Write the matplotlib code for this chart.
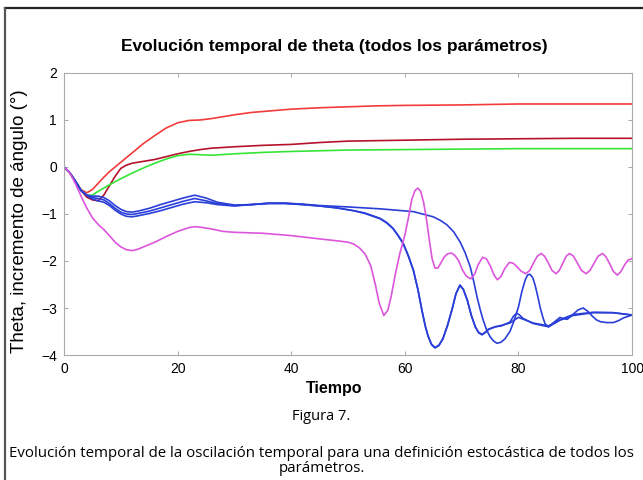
import matplotlib.pyplot as plt
from matplotlib.lines import Line2D

# data (tiempo, theta)
t_red = [0, 1, 2, 3, 4, 5, 6, 7, 8, 9, 10, 12, 14, 16, 18, 20, 22, 24, 26, 28, 30,
         33, 36, 40, 45, 50, 55, 60, 70, 80, 90, 100]
y_red = [0, -0.12, -0.3, -0.48, -0.55, -0.48, -0.35, -0.22, -0.1, 0.0, 0.1, 0.3, 0.5,
         0.67, 0.83, 0.94, 0.99, 1.0, 1.03, 1.07, 1.11, 1.16, 1.19, 1.23, 1.26, 1.28,
         1.3, 1.31, 1.32, 1.34, 1.34, 1.34]

t_darkred = [0, 1, 2, 3, 4, 5, 6, 7, 8, 9, 10, 11, 12, 14, 16, 18, 20, 22, 24, 26, 30,
             35, 40, 45, 50, 60, 70, 80, 90, 100]
y_darkred = [0, -0.12, -0.3, -0.5, -0.64, -0.7, -0.72, -0.6, -0.4, -0.2, -0.03, 0.04,
             0.08, 0.12, 0.16, 0.22, 0.28, 0.33, 0.37, 0.4, 0.43, 0.46, 0.48, 0.52, 0.55,
             0.57, 0.59, 0.6, 0.61, 0.61]

t_green = [0, 1, 2, 3, 4, 5, 6, 8, 10, 12, 14, 16, 18, 20, 22, 24, 26, 30, 35, 40, 50,
           60, 70, 80, 100]
y_green = [0, -0.12, -0.3, -0.5, -0.6, -0.6, -0.52, -0.38, -0.25, -0.13, -0.02, 0.08,
           0.17, 0.24, 0.27, 0.26, 0.25, 0.28, 0.31, 0.33, 0.36, 0.37, 0.38, 0.39, 0.39]

t_magenta = [0, 1, 2, 3, 4, 5, 6, 7, 8, 9, 10, 11, 12, 13, 14, 16, 18, 20, 22, 23, 24,
             26, 28, 30, 35, 40, 45, 48, 50, 51, 52, 53, 54, 54.8, 55.5, 56.3, 57, 57.6,
             58.3, 59.1, 60, 60.6, 61.2, 61.8, 62.3, 62.8, 63.3, 63.8, 64.3, 64.8, 65.3,
             65.8, 66.3, 66.9, 67.5, 68.2, 68.8, 69.5, 70.1, 70.8, 71.6, 72.3, 72.9,
             73.7, 74.4, 75.1, 75.7, 76.3, 76.9, 77.6, 78.4, 79.1, 79.8, 80.5, 81.3, 82,
             82.7, 83.3, 84, 84.6, 85.3, 85.9, 86.6, 87.2, 87.8, 88.4, 89, 89.7, 90.4,
             91.1, 91.9, 92.6, 93.3, 94, 94.8, 95.4, 96.1, 96.7, 97.4, 98, 98.7, 99.3, 100]
y_magenta = [0, -0.12, -0.35, -0.62, -0.87, -1.08, -1.22, -1.33, -1.46, -1.6, -1.7,
             -1.76, -1.78, -1.75, -1.7, -1.6, -1.48, -1.37, -1.29, -1.27, -1.28, -1.32,
             -1.37, -1.39, -1.41, -1.46, -1.53, -1.57, -1.6, -1.64, -1.72, -1.85, -2.1,
             -2.5, -2.9, -3.16, -3.05, -2.75, -2.3, -1.85, -1.45, -1.1, -0.7, -0.5,
             -0.45, -0.52, -0.75, -1.1, -1.55, -1.95, -2.15, -2.15, -2.05, -1.92, -1.85,
             -1.83, -1.88, -2.0, -2.18, -2.32, -2.38, -2.28, -2.08, -1.92, -1.96, -2.12,
             -2.3, -2.4, -2.33, -2.16, -2.03, -2.05, -2.13, -2.22, -2.27, -2.2, -2.03,
             -1.9, -1.84, -1.9, -2.05, -2.2, -2.27, -2.2, -2.05, -1.9, -1.84, -1.9, -2.05,
             -2.2, -2.27, -2.2, -2.05, -1.9, -1.84, -1.91, -2.07, -2.22, -2.3, -2.23,
             -2.08, -1.98, -1.95]

t_blue_a = [0, 1, 2, 3, 4, 5, 6, 7, 8, 9, 10, 11, 12, 13, 15, 17, 19, 21, 23, 25, 27,
            30, 33, 36, 39, 42, 45, 48, 51, 53, 55.6, 56.8, 57.9, 58.8, 59.7, 60.6, 61.5,
            62.3, 63, 63.6, 64.1, 64.7, 65.3, 66, 66.7, 67.5, 68.3, 69, 69.7, 70.3, 71,
            71.7, 72.4, 73, 73.6, 74.2, 74.7, 75.9, 77, 78.5, 79.1, 79.7, 80.2, 80.8,
            82.6, 85.3, 87.3, 89.6, 93.2, 96.7, 100]
y_blue_a = [0, -0.12, -0.3, -0.5, -0.6, -0.68, -0.72, -0.75, -0.82, -0.92, -1.0, -1.05,
            -1.06, -1.04, -0.99, -0.93, -0.86, -0.79, -0.74, -0.76, -0.8, -0.83, -0.8,
            -0.78, -0.78, -0.8, -0.83, -0.87, -0.93, -0.98, -1.09, -1.18, -1.3, -1.45,
            -1.62, -1.88, -2.19, -2.6, -3.04, -3.38, -3.6, -3.78, -3.85, -3.8, -3.66,
            -3.38, -3.04, -2.7, -2.51, -2.6, -2.83, -3.15, -3.4, -3.53, -3.57, -3.52,
            -3.46, -3.4, -3.38, -3.3, -3.18, -3.11, -3.15, -3.22, -3.33, -3.4, -3.26,
            -3.16, -3.1, -3.1, -3.15]

t_blue_b = [0, 1, 2, 3, 4, 5, 6, 7, 8, 9, 10, 11, 12, 13, 15, 17, 19, 21, 23, 25, 27,
            30, 33, 36, 39, 42, 45, 50, 55.6, 61.5, 65, 66.3, 67.4, 68.6, 69.7, 70.6,
            71.5, 72.1, 72.7, 73.3, 73.8, 74.4, 75, 75.6, 76.2, 76.9, 77.6, 78.5, 79.2,
            80, 80.6, 81.2, 81.6, 82, 82.5, 82.9, 83.4, 83.8, 84.3, 84.7, 85.3, 86.3,
            87.3, 88, 88.6, 89.5, 90.5, 91.4, 92.2, 92.9, 93.7, 94.4, 95.5, 96.7, 97.6,
            98.5, 100]
y_blue_b = [0, -0.12, -0.3, -0.5, -0.6, -0.65, -0.67, -0.7, -0.78, -0.88, -0.96, -1.0,
            -1.01, -0.99, -0.94, -0.87, -0.8, -0.73, -0.67, -0.72, -0.78, -0.82, -0.8,
            -0.77, -0.77, -0.79, -0.82, -0.85, -0.89, -0.95, -1.06, -1.14, -1.23, -1.38,
            -1.59, -1.82, -2.12, -2.42, -2.76, -3.05, -3.26, -3.47, -3.61, -3.7, -3.75,
            -3.73, -3.66, -3.5, -3.28, -2.98, -2.65, -2.4, -2.3, -2.28, -2.35, -2.5,
            -2.75, -2.98, -3.2, -3.34, -3.4, -3.3, -3.2, -3.23, -3.24, -3.15, -3.04,
            -3.0, -3.07, -3.16, -3.25, -3.29, -3.31, -3.31, -3.27, -3.21, -3.15]

t_blue_c = [0, 1, 2, 3, 4, 5, 6, 7, 8, 9, 10, 11, 12, 13, 15, 17, 19, 21, 23, 25, 27,
            30, 33, 36, 39, 42, 45, 48, 51, 53, 55.6, 56.8, 57.9, 58.8, 59.7, 60.6, 61.5,
            62.3, 63, 63.6, 64.1, 64.7, 65.3, 66, 66.7, 67.5, 68.3, 69, 69.7, 70.3, 71,
            71.7, 72.4, 73, 73.6, 74.2, 74.7, 75.9, 77, 78.5, 80, 82.6, 85.3, 87.3, 89.6,
            93.2, 96.7, 100]
y_blue_c = [0, -0.12, -0.3, -0.5, -0.6, -0.62, -0.62, -0.65, -0.72, -0.82, -0.9, -0.95,
            -0.96, -0.94, -0.88, -0.8, -0.73, -0.66, -0.6, -0.66, -0.75, -0.81, -0.8,
            -0.77, -0.77, -0.8, -0.83, -0.87, -0.93, -0.99, -1.1, -1.19, -1.31, -1.46,
            -1.63, -1.89, -2.2, -2.61, -3.05, -3.39, -3.6, -3.77, -3.84, -3.79, -3.65,
            -3.37, -3.03, -2.69, -2.52, -2.61, -2.84, -3.16, -3.4, -3.52, -3.56, -3.51,
            -3.45, -3.4, -3.37, -3.32, -3.2, -3.32, -3.38, -3.25, -3.14, -3.09, -3.1,
            -3.15]

series = [
    (t_red, y_red, "#f23c3c"),
    (t_darkred, y_darkred, "#b5122c"),
    (t_green, y_green, "#35e535"),
    (t_blue_c, y_blue_c, "#2a3fd8"),
    (t_blue_b, y_blue_b, "#2a3fd8"),
    (t_blue_a, y_blue_a, "#2a3fd8"),
    (t_magenta, y_magenta, "#dc55dc"),
]

plt.rcParams["font.family"] = ["Liberation Sans", "DejaVu Sans"]

fig = plt.figure(figsize=(6.43, 4.8), dpi=100)
ax = fig.add_axes([0.0995, 0.2604, 0.8835, 0.5876])

for t, y, c in series:
    ax.plot(t, y, color=c, lw=1.2, solid_joinstyle="round", solid_capstyle="round")

ax.set_xlim(0, 100)
ax.set_ylim(-4, 2)
ax.set_xticks([0, 20, 40, 60, 80, 100])
ax.set_yticks([-4, -3, -2, -1, 0, 1, 2])
ax.tick_params(direction="in", length=3, width=0.6, color="#999999",
               top=True, right=True, labelsize=10, pad=5)
for s in ax.spines.values():
    s.set_color("#aaaaaa")
    s.set_linewidth(0.8)

# title sits a bit left of the axes centre in the original
fig.text(334 / 643, 1 - 47 / 480, "Evolución temporal de theta (todos los parámetros)",
         ha="center", va="center", fontsize=12.5, fontweight="bold")
ax.set_xlabel("Tiempo", fontsize=11.5, fontweight="bold")
ax.xaxis.set_label_coords(0.475, -0.092)
ax.set_ylabel("Theta, incremento de ángulo (°)", fontsize=13.5)
ax.yaxis.set_label_coords(-0.0634, 0.475)

# caption
fig.text(0.5, 1 - 417 / 480, "Figura 7.", ha="center", va="center",
         fontsize=10.5, family="Open Sans")
fig.text(0.5, 1 - 461 / 480,
         "Evolución temporal de la oscilación temporal para una definición estocástica de todos los\nparámetros.",
         ha="center", va="center", fontsize=10.8, family="Open Sans", linespacing=1.0)

# outer frame
fig.add_artist(Line2D([5 / 643, 1], [1 - 8 / 480, 1 - 8 / 480], color="#222222", lw=1.6,
                      transform=fig.transFigure))
fig.add_artist(Line2D([5 / 643, 5 / 643], [0, 1 - 8 / 480], color="#555555", lw=1.6,
                      transform=fig.transFigure))

fig.savefig("out.png", dpi=100)
